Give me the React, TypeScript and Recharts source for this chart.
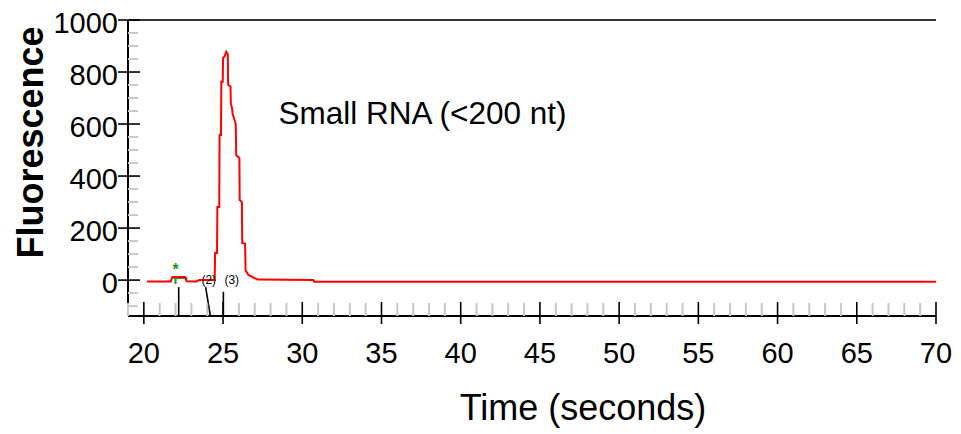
import React from 'react';
import { LineChart, Line, XAxis, YAxis, ReferenceLine, ReferenceDot, Label } from 'recharts';

const FONT = '"Liberation Sans", Arial, Helvetica, sans-serif';

// Electropherogram trace (time in seconds, fluorescence units)
const times = [20.2, 21.7, 21.8, 22.6, 22.7, 23.3, 23.5, 24.47, 24.5, 24.62, 24.64, 24.76, 24.78, 24.87, 24.89, 24.98, 25.0, 25.1, 25.2, 25.3, 25.32, 25.47, 25.49, 25.57, 25.6, 25.8, 25.83, 26.03, 26.05, 26.19, 26.21, 26.39, 26.42, 26.6, 26.85, 27.2, 30.7, 30.75, 70.0];
const fluorescence = [-5, -5, 12, 12, -4, -5, 0, 0, 104, 104, 281, 281, 558, 558, 763, 763, 855, 860, 878, 868, 750, 745, 680, 660, 640, 600, 480, 470, 308, 300, 143, 140, 38, 20, 12, 2, 0, -6, -6];

const xMajorTicks = [20, 25, 30, 35, 40, 45, 50, 55, 60, 65, 70];
const xMinorTicks = [19, 21, 22, 23, 24, 26, 27, 28, 29, 31, 32, 33, 34, 36, 37, 38, 39, 41, 42, 43, 44, 46, 47, 48, 49, 51, 52, 53, 54, 56, 57, 58, 59, 61, 62, 63, 64, 66, 67, 68, 69];
const yMajorTicks = [0, 200, 400, 600, 800, 1000];
const yMinorTicks = [-100, -50, 50, 100, 150, 250, 300, 350, 450, 500, 550, 650, 700, 750, 850, 900, 950];

const annotation = 'Small RNA (<200 nt)';
const xTitle = 'Time (seconds)';
const yTitle = 'Fluorescence';

const data = times.map((t, i) => ({ t, f: fluorescence[i] }));
const xTicks = [...xMajorTicks, ...xMinorTicks].sort((a, b) => a - b);
const yTicks = [...yMajorTicks, ...yMinorTicks].sort((a, b) => a - b);

const XTick = (props: any) => {
  const { x, y, payload } = props;
  const v = payload.value;
  if (!xMajorTicks.includes(v)) {
    return <line x1={x} y1={y - 13} x2={x} y2={y} stroke="#c8c8c8" strokeWidth={2} />;
  }
  return (
    <g>
      <line x1={x} y1={y - 14} x2={x} y2={y + 8} stroke="#000" strokeWidth={1.6} />
      <text x={x} y={y + 47} textAnchor="middle" fontSize={29} fontFamily={FONT} fill="#000">{v}</text>
    </g>
  );
};

const YTick = (props: any) => {
  const { x, y, payload } = props;
  const v = payload.value;
  if (!yMajorTicks.includes(v)) {
    return <line x1={x} y1={y} x2={x + 10} y2={y} stroke="#c8c8c8" strokeWidth={2} />;
  }
  return (
    <g>
      <line x1={x - 10} y1={y} x2={x + 12} y2={y} stroke="#000" strokeWidth={1.6} />
      <text x={x - 10} y={y + 13} textAnchor="end" fontSize={29} fontFamily={FONT} fill="#000">{v}</text>
    </g>
  );
};

export default function App() {
  return (
    <div style={{ position: 'absolute', left: 0, top: 0, background: '#fff' }}>
      <LineChart width={961} height={434} data={data} margin={{ top: 20, right: 25, bottom: 58, left: 0 }}>
        <XAxis
          dataKey="t"
          type="number"
          domain={[19, 70]}
          ticks={xTicks}
          interval={0}
          tickSize={0}
          tickMargin={0}
          tickLine={false}
          height={60}
          axisLine={{ stroke: '#000', strokeWidth: 2 }}
          tick={XTick}
        >
          <Label
            content={() => (
              <text x={583} y={420} textAnchor="middle" fontSize={36} fontFamily={FONT} fill="#000">{xTitle}</text>
            )}
          />
        </XAxis>
        <YAxis
          type="number"
          domain={[-138, 1000]}
          ticks={yTicks}
          interval={0}
          tickSize={0}
          tickMargin={0}
          tickLine={false}
          width={128}
          axisLine={{ stroke: '#000', strokeWidth: 2 }}
          tick={YTick}
        >
          <Label
            content={() => (
              <text x={43} y={142.5} transform="rotate(-90, 43, 142.5)" textAnchor="middle" fontSize={36} fontWeight="bold" fontFamily={FONT} fill="#000">{yTitle}</text>
            )}
          />
        </YAxis>
        <ReferenceLine y={1000} stroke="#333" strokeWidth={2} />
        {/* peak markers */}
        <ReferenceLine segment={[{ x: 22.2, y: -27 }, { x: 22.2, y: -138 }]} stroke="#000" strokeWidth={1.6} />
        <ReferenceLine segment={[{ x: 23.9, y: -27 }, { x: 24.2, y: -138 }]} stroke="#000" strokeWidth={1.6} />
        <ReferenceLine segment={[{ x: 25.02, y: -45 }, { x: 25.02, y: -138 }]} stroke="#000" strokeWidth={1.6} />
        <ReferenceLine segment={[{ x: 25.3, y: -15 }, { x: 25.1, y: -60 }, { x: 25.1, y: -138 }]} stroke="#000" strokeWidth={1.6} />
        <ReferenceLine segment={[{ x: 21.85, y: 8 }, { x: 22.75, y: 8 }]} stroke="#1a9a1a" strokeWidth={2} />
        <ReferenceLine segment={[{ x: 22.0, y: 8 }, { x: 22.0, y: -15 }]} stroke="#1a9a1a" strokeWidth={2} />
        <ReferenceDot x={22.0} y={42} r={0} fill="none" stroke="none" label={{ value: '*', position: 'center', fill: '#1a9a1a', fontSize: 16, fontWeight: 'bold', fontFamily: FONT }} />
        <ReferenceDot x={24.1} y={3} r={0} fill="none" stroke="none" label={{ value: '(2)', position: 'center', fill: '#000', fontSize: 12, fontFamily: FONT }} />
        <ReferenceDot x={25.55} y={3} r={0} fill="none" stroke="none" label={{ value: '(3)', position: 'center', fill: '#000', fontSize: 12, fontFamily: FONT }} />
        <ReferenceDot x={28.5} y={642} r={0} fill="none" stroke="none" label={{ value: annotation, position: 'right', offset: 0, fill: '#000', fontSize: 31.5, fontFamily: FONT }} />
        <Line dataKey="f" type="linear" stroke="#ff0000" strokeWidth={2} dot={false} isAnimationActive={false} />
      </LineChart>
    </div>
  );
}
